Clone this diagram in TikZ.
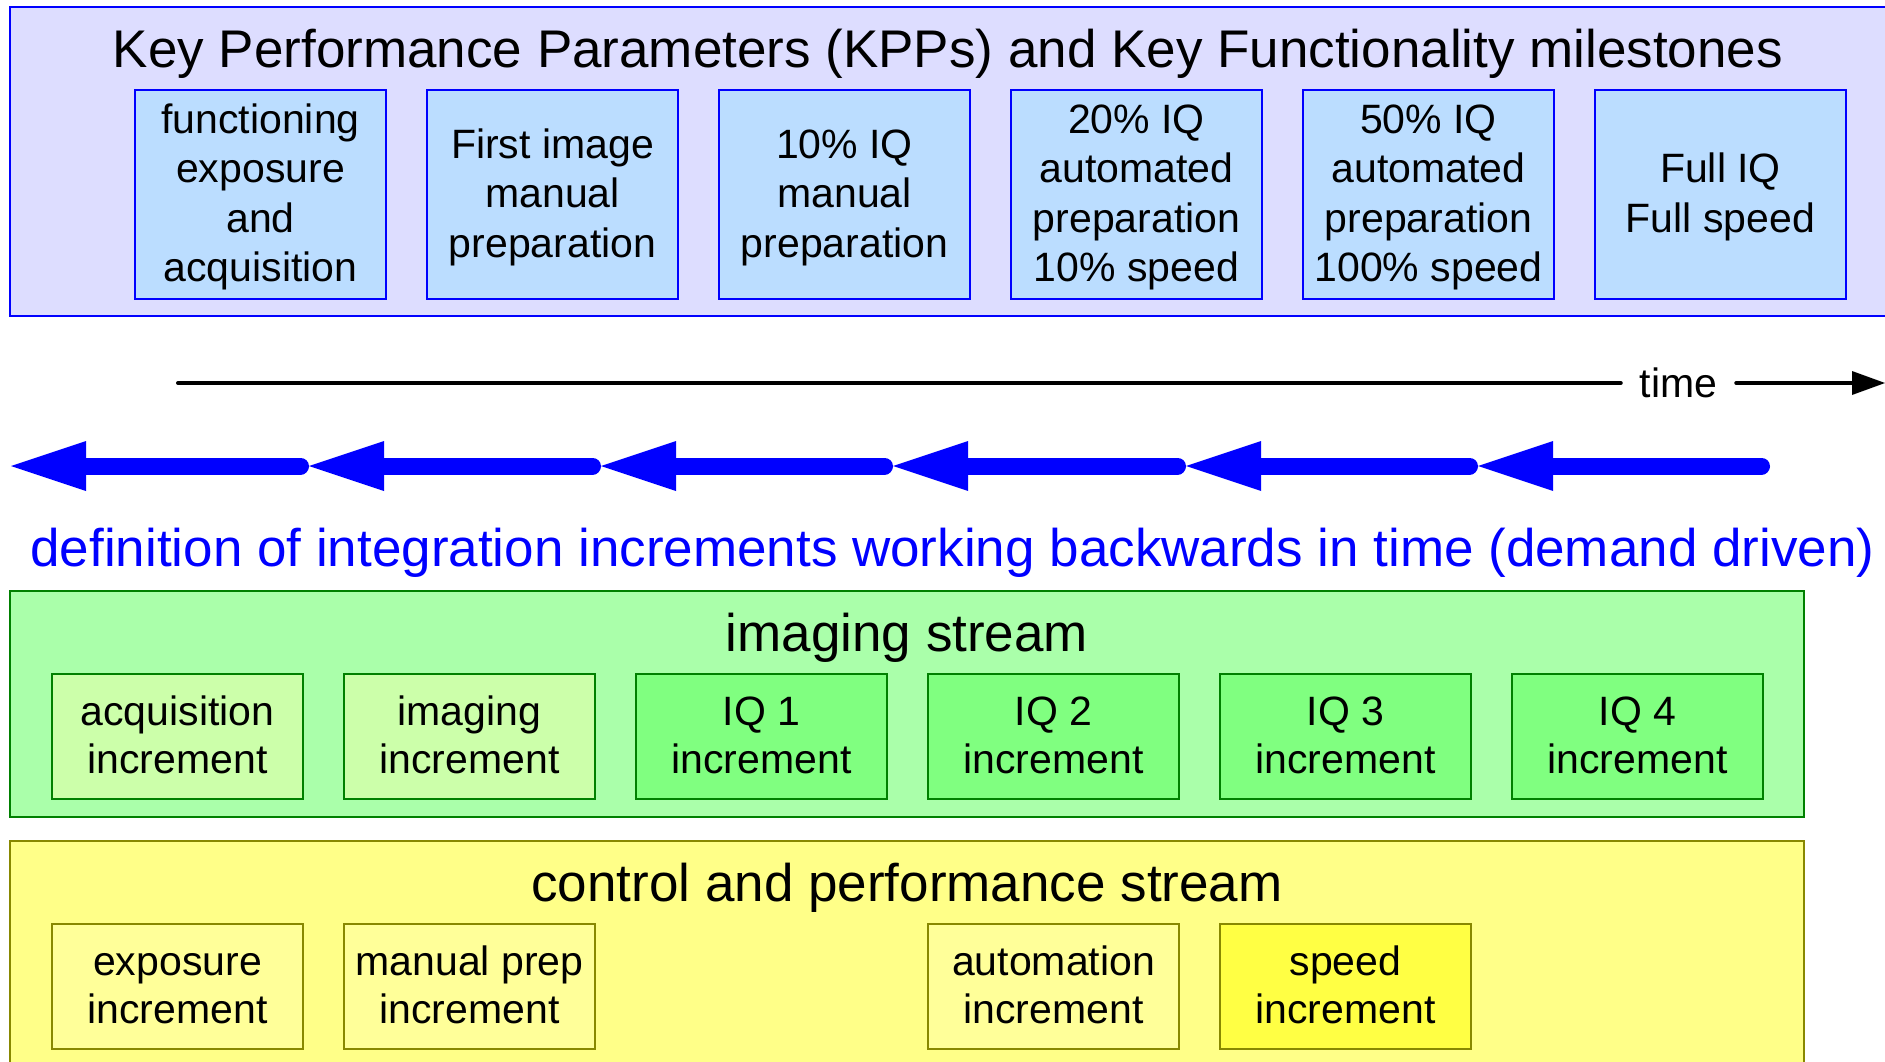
\documentclass[tikz,border=0pt]{standalone}
\usepackage{fontspec}
\setmainfont{Liberation Sans}
\usetikzlibrary{arrows.meta}
\definecolor{kppbg}{HTML}{DDDDFF}
\definecolor{kppbox}{HTML}{BBDDFF}
\definecolor{kppline}{HTML}{0000FF}
\definecolor{imgbg}{HTML}{AAFFAA}
\definecolor{imglight}{HTML}{CCFFAA}
\definecolor{imgbright}{HTML}{80FF80}
\definecolor{imgline}{HTML}{008000}
\definecolor{ctlbg}{HTML}{FFFF88}
\definecolor{ctlbox}{HTML}{FFFF99}
\definecolor{ctlspeed}{HTML}{FFFF44}
\definecolor{ctlline}{HTML}{888800}
\newcommand{\topstrut}{\rule{0pt}{35pt}}
\newcommand{\botstrut}{\rule[-9pt]{0pt}{9pt}}
\newcommand{\bx}[1]{\topstrut#1\botstrut}
\begin{document}
\begin{tikzpicture}[x=1pt,y=-1pt,
  every node/.style={inner sep=0pt, outer sep=0pt},
  panel/.style={draw, line width=2pt, rectangle},
  kpp/.style={align=center, draw=kppline, fill=kppbox, line width=2pt, minimum width=251pt, minimum height=209pt, font=\fontsize{41}{49.5}\selectfont},
  inc/.style={align=center, line width=2pt, minimum width=251pt, minimum height=125pt, font=\fontsize{41}{48}\selectfont},
  imgold/.style={inc, draw=imgline, fill=imglight},
  imgnew/.style={inc, draw=imgline, fill=imgbright},
  ctl/.style={inc, draw=ctlline, fill=ctlbox},
  ctlhot/.style={inc, draw=ctlline, fill=ctlspeed},
  big/.style={font=\fontsize{53}{60}\selectfont},
  demand/.style={line width=17pt, draw=blue, line cap=round, shorten <=8.5pt, -{Triangle[length=75pt,width=50pt,line width=0pt]}},
  timeline/.style={line width=4pt, line cap=round},
]
\clip (0,0) rectangle (1885,1062);
\fill[white] (0,0) rectangle (1885,1062);

% KPP panel
\node[panel, draw=kppline, fill=kppbg, minimum width=1878pt, minimum height=309pt] (kppframe) at (949,161.5) {};
\node[big, anchor=base] (kpptitle) at (948,68) {Key Performance Parameters (KPPs) and Key Functionality milestones};
\node[kpp] (k0) at (260.5,194.5) {\bx{functioning\\exposure\\and\\acquisition}};
\node[kpp] (k1) at (552.5,194.5) {\bx{First image\\manual\\preparation}};
\node[kpp] (k2) at (844.5,194.5) {\bx{10\% IQ\\manual\\preparation}};
\node[kpp] (k3) at (1136.5,194.5) {\bx{20\% IQ\\automated\\preparation\\10\% speed}};
\node[kpp] (k4) at (1428.5,194.5) {\bx{50\% IQ\\automated\\preparation\\100\% speed}};
\node[kpp] (k5) at (1720.5,194.5) {\bx{Full IQ\\Full speed}};

% time axis
\coordinate (tstart) at (178,383);
\coordinate (tend) at (1885,383);
\node[font=\fontsize{41}{49}\selectfont, text height=29.5pt, text depth=0pt, inner xsep=19pt] (time) at (1678.5,383) {time};
\draw[timeline] (tstart) -- (time.west);
\draw[timeline, -{Triangle[length=33pt,width=24pt,line width=0pt]}] (time.east) -- (tend);

% demand driven arrows
\coordinate (d0) at (11,466);
\coordinate (d1) at (309,466);
\coordinate (d2) at (601,466);
\coordinate (d3) at (893,466);
\coordinate (d4) at (1186,466);
\coordinate (d5) at (1478,466);
\coordinate (d6) at (1770,466);
\draw[demand] (d1) -- (d0);
\draw[demand] (d2) -- (d1);
\draw[demand] (d3) -- (d2);
\draw[demand] (d4) -- (d3);
\draw[demand] (d5) -- (d4);
\draw[demand] (d6) -- (d5);
\node[big, text=blue, anchor=base] (demandtext) at (952.5,566) {definition of integration increments working backwards in time (demand driven)};

% imaging stream
\node[panel, draw=imgline, fill=imgbg, minimum width=1794pt, minimum height=226pt] (imgframe) at (907,704) {};
\node[big, anchor=base] (imgtitle) at (907,651) {imaging stream};
\node[imgold] (i0) at (177.5,736.5) {\bx{acquisition\\increment}};
\node[imgold] (i1) at (469.5,736.5) {\bx{imaging\\increment}};
\node[imgnew] (i2) at (761.5,736.5) {\bx{IQ 1\\increment}};
\node[imgnew] (i3) at (1053.5,736.5) {\bx{IQ 2\\increment}};
\node[imgnew] (i4) at (1345.5,736.5) {\bx{IQ 3\\increment}};
\node[imgnew] (i5) at (1637.5,736.5) {\bx{IQ 4\\increment}};

% control and performance stream
\node[panel, draw=ctlline, fill=ctlbg, minimum width=1794pt, minimum height=259pt] (ctlframe) at (907,970.5) {};
\node[big, anchor=base] (ctltitle) at (907,901) {control and performance stream};
\node[ctl] (c0) at (177.5,986.5) {\bx{exposure\\increment}};
\node[ctl] (c1) at (469.5,986.5) {\bx{manual prep\\increment}};
\node[ctl] (c3) at (1053.5,986.5) {\bx{automation\\increment}};
\node[ctlhot] (c4) at (1345.5,986.5) {\bx{speed\\increment}};
\end{tikzpicture}
\end{document}
